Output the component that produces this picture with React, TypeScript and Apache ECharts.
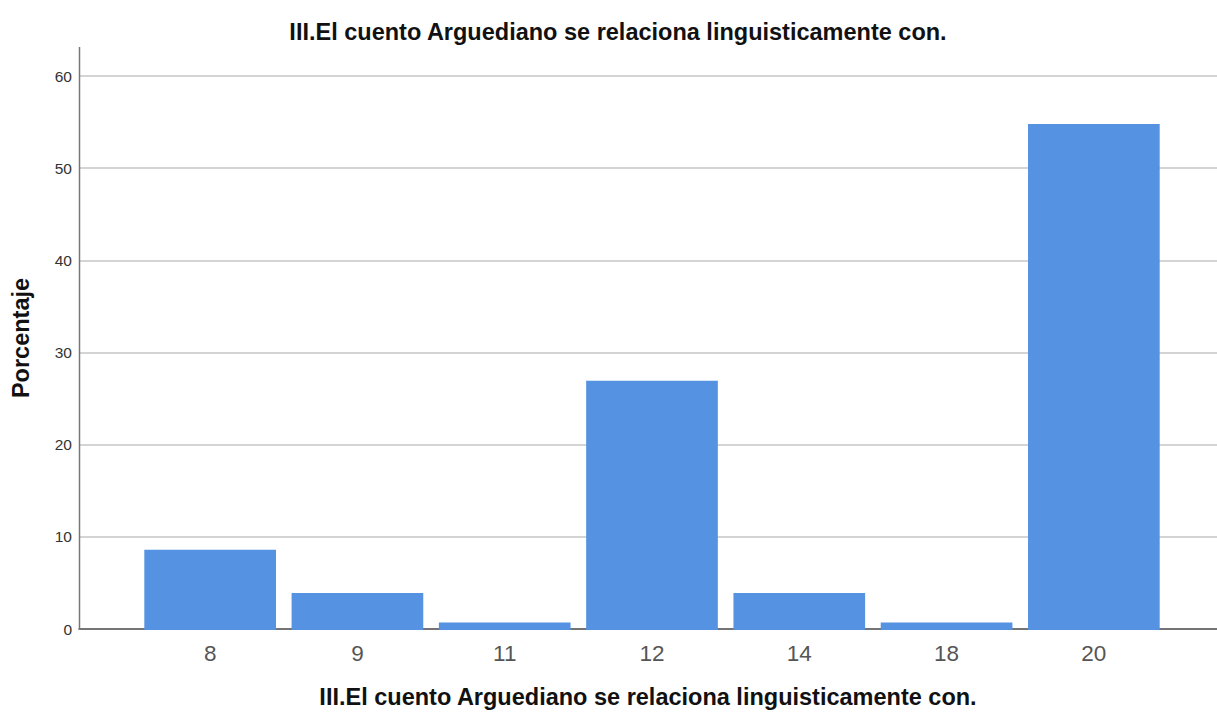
import React, { useEffect, useRef } from "react";
import * as echarts from "echarts";

const categories = ["8", "9", "11", "12", "14", "18", "20"];
const percentages = [8.7, 4.0, 0.8, 27.0, 4.0, 0.8, 54.8];
const yTicks = [0, 10, 20, 30, 40, 50, 60];
const titleText = "III.El cuento Arguediano se relaciona linguisticamente con.";
const xAxisTitle = "III.El cuento Arguediano se relaciona linguisticamente con.";
const yAxisTitle = "Porcentaje";

const FONT = "'Liberation Sans', Arial, sans-serif";

export default function App() {
  const ref = useRef<HTMLDivElement>(null);
  useEffect(() => {
    if (!ref.current) return;
    const chart = echarts.init(ref.current, null, { renderer: "svg" });
    const yMax = yTicks[yTicks.length - 1];
    chart.setOption({
      animation: false,
      backgroundColor: "#ffffff",
      title: {
        text: titleText,
        left: 613,
        textAlign: "center",
        top: 15,
        textStyle: { fontFamily: FONT, fontSize: 23.5, fontWeight: "bold", color: "#111" },
      },
      grid: [
        { left: 79, right: 0, top: 76, bottom: 84, containLabel: false },
        { left: 136.5, right: 49.5, top: 76, bottom: 84, containLabel: false },
      ],
      xAxis: [
        {
          type: "category",
          gridIndex: 0,
          data: categories,
          axisLine: { show: true, lineStyle: { color: "#555", width: 1.5 } },
          axisTick: { show: false },
          axisLabel: { show: false },
          splitLine: { show: false },
          name: xAxisTitle,
          nameLocation: "middle",
          nameGap: 56,
          nameTextStyle: { fontFamily: FONT, fontSize: 23.5, fontWeight: "bold", color: "#111" },
        },
        {
          type: "category",
          gridIndex: 1,
          data: categories,
          axisLine: { show: false },
          axisTick: { show: false },
          axisLabel: { fontFamily: FONT, fontSize: 22.5, color: "#555", margin: 12 },
          splitLine: { show: false },
        },
      ],
      yAxis: [
        {
          type: "value",
          gridIndex: 0,
          min: 0,
          max: yMax,
          interval: 10,
          axisLine: { show: false },
          axisTick: { show: false },
          axisLabel: { fontFamily: FONT, fontSize: 15.5, color: "#333", margin: 7 },
          splitLine: { show: true, lineStyle: { color: "#c6c6c6", width: 1.5 } },
        },
        {
          type: "value",
          gridIndex: 1,
          min: 0,
          max: yMax,
          interval: 10,
          axisLine: { show: false },
          axisTick: { show: false },
          axisLabel: { show: false },
          splitLine: { show: false },
        },
      ],
      graphic: [
        {
          type: "line",
          shape: { x1: 79.5, y1: 47, x2: 79.5, y2: 630 },
          style: { stroke: "#777", lineWidth: 1.5 },
          z: 10,
        },
        {
          type: "text",
          x: 21,
          y: 338,
          rotation: Math.PI / 2,
          style: {
            text: yAxisTitle,
            align: "center",
            verticalAlign: "middle",
            fontFamily: FONT,
            fontSize: 23.5,
            fontWeight: "bold",
            fill: "#111",
          },
        },
      ],
      series: [
        {
          type: "bar",
          xAxisIndex: 1,
          yAxisIndex: 1,
          data: percentages,
          barCategoryGap: "10.6%",
          itemStyle: { color: "#5592e1" },
        },
      ],
    });
    return () => chart.dispose();
  }, []);
  return (
    <div
      ref={ref}
      style={{ position: "fixed", left: 0, top: 0, width: 1217, height: 714, background: "#fff" }}
    />
  );
}
